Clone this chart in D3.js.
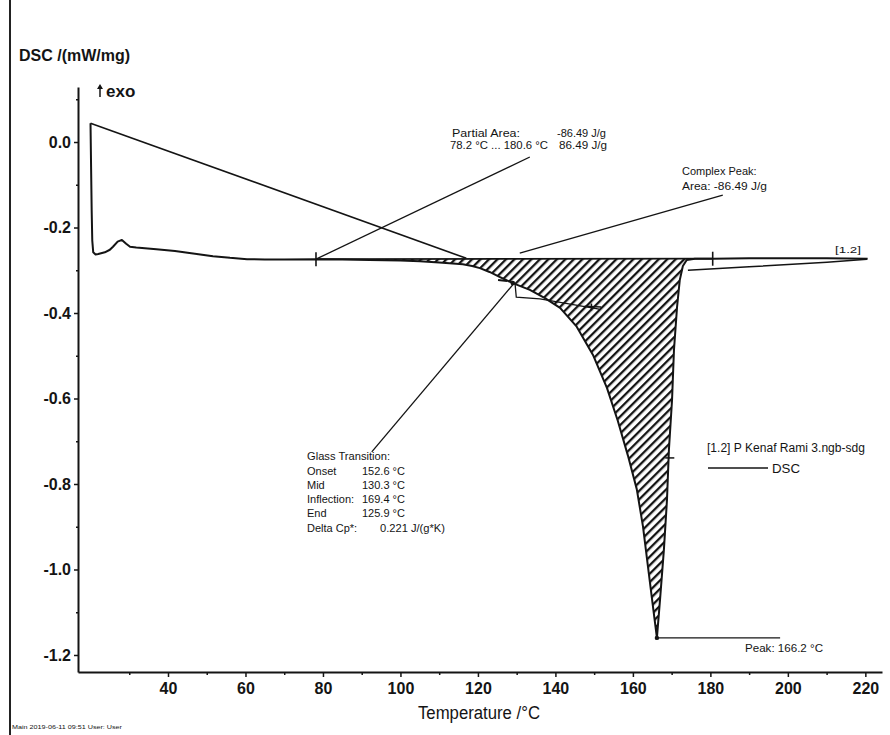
<!DOCTYPE html>
<html><head><meta charset="utf-8">
<script src="https://cdn.jsdelivr.net/npm/d3@7"></script>
<style>
body{margin:0;background:#fff}
svg{display:block}
text{font-family:"Liberation Sans",Arial,Helvetica,sans-serif;fill:#141414}
</style>
</head><body>
<svg id="chart" width="890" height="735"></svg>
<script>
// ---------- data ----------
const curveT = [20.0, 20.15, 20.3, 20.45, 20.7, 21.3, 22.0, 23.7, 25.0, 25.8, 27.0, 28.1, 29.2, 30.2, 31.8, 33.3,
  37.0, 41.8, 46.0, 51.6, 56.0, 60.4, 65.0, 70.0, 78.2, 85.0, 92.0, 100.0, 105.0, 110.0, 113.5, 116.1, 118.5,
  120.5, 123.0, 125.7, 129.0, 133.4, 137.3, 141.2, 145.5, 149.7, 153.3, 156.1, 158.7, 161.0, 162.6, 163.9,
  165.2, 166.2, 167.0, 168.0, 168.8, 169.3, 170.1, 170.6, 171.4, 172.1, 172.9, 173.9, 176.0, 180.6, 190.0,
  200.0, 210.0, 220.6];
const curveV = [0.044, -0.06, -0.16, -0.23, -0.258, -0.263, -0.262, -0.258, -0.252, -0.245, -0.233, -0.229,
  -0.238, -0.245, -0.247, -0.248, -0.251, -0.255, -0.260, -0.267, -0.271, -0.274, -0.275, -0.275, -0.274,
  -0.275, -0.276, -0.277, -0.279, -0.282, -0.284, -0.286, -0.290, -0.295, -0.304, -0.316, -0.330, -0.346,
  -0.365, -0.388, -0.432, -0.498, -0.575, -0.652, -0.733, -0.812, -0.899, -0.994, -1.088, -1.160, -1.071,
  -0.954, -0.837, -0.720, -0.604, -0.487, -0.386, -0.323, -0.290, -0.276, -0.273, -0.273, -0.272, -0.272,
  -0.272, -0.273];
// straight segment from the start of the run
const diagT = [20.0, 117.0];
const diagV = [0.044, -0.272];
// lower line right of the peak
const lowT = [174.2, 190.0, 210.1, 220.4];
const lowV = [-0.300, -0.292, -0.281, -0.274];
// partial area limits
const areaLimitsT = [78.2, 180.6];
const areaLimitsV = [-0.274, -0.273];
const peakT = 166.2, peakV = -1.160;
const inflectionT = 169.4, inflectionV = -0.739;

const xMajorTicks = [40, 60, 80, 100, 120, 140, 160, 180, 200, 220];
const xTickLabels = ["40", "60", "80", "100", "120", "140", "160", "180", "200", "220"];
const xMinorTicks = [30, 50, 70, 90, 110, 130, 150, 170, 190, 210];
const yMajorTicks = [0.0, -0.2, -0.4, -0.6, -0.8, -1.0, -1.2];
const yTickLabels = ["0.0", "-0.2", "-0.4", "-0.6", "-0.8", "-1.0", "-1.2"];
const yMinorTicks = [0.1, -0.1, -0.3, -0.5, -0.7, -0.9, -1.1];

// ---------- drawing ----------
const svg = d3.select("#chart");
svg.append("rect").attr("width", 890).attr("height", 735).attr("fill", "#fff");

const x = d3.scaleLinear().domain([16.77, 224.3]).range([78, 882]);
const y = d3.scaleLinear().domain([-1.2398, 0.1287]).range([672, 87]);
const ink = "#141414";

// page frame (left edge of scanned sheet)
svg.append("line").attr("x1", 10).attr("x2", 10).attr("y1", 0).attr("y2", 735)
  .attr("stroke", "#222").attr("stroke-width", 2);

// hatch pattern
const defs = svg.append("defs");
const pat = defs.append("pattern").attr("id", "hatch").attr("patternUnits", "userSpaceOnUse")
  .attr("width", 6).attr("height", 6).attr("patternTransform", "rotate(45)");
pat.append("line").attr("x1", 1).attr("x2", 1).attr("y1", 0).attr("y2", 6)
  .attr("stroke", ink).attr("stroke-width", 2.6);

// axes
svg.append("g").attr("transform", "translate(78,0)")
  .call(d3.axisLeft(y).tickValues(yMajorTicks).tickFormat((d, i) => yTickLabels[i])
    .tickSize(4).tickPadding(3).tickSizeOuter(0));
svg.append("g").attr("transform", "translate(78,0)")
  .call(d3.axisLeft(y).tickValues(yMinorTicks).tickFormat("").tickSize(2).tickSizeOuter(0))
  .select(".domain").remove();
svg.append("g").attr("transform", "translate(0,672)")
  .call(d3.axisBottom(x).tickValues(xMajorTicks).tickFormat((d, i) => xTickLabels[i])
    .tickSize(5).tickPadding(6).tickSizeOuter(0));
svg.append("g").attr("transform", "translate(0,672)")
  .call(d3.axisBottom(x).tickValues(xMinorTicks).tickFormat("").tickSize(3).tickSizeOuter(0))
  .select(".domain").remove();
svg.selectAll(".domain").attr("stroke", ink).attr("stroke-width", 2);
svg.selectAll(".tick line").attr("stroke", ink).attr("stroke-width", 1.5);
svg.selectAll(".tick text").attr("fill", ink).style("font-size", "16px").style("font-weight", "bold")
  .style("font-family", "'Liberation Sans',Arial,sans-serif");

// axis titles
svg.append("text").attr("x", 19).attr("y", 61).style("font-size", "16px").style("font-weight", "bold")
  .text("DSC /(mW/mg)");
svg.append("text").attr("x", 479).attr("y", 719).attr("text-anchor", "middle")
  .attr("textLength", 122).attr("lengthAdjust", "spacingAndGlyphs")
  .style("font-size", "18px").text("Temperature /°C");
// exo arrow
svg.append("line").attr("x1", 100).attr("x2", 100).attr("y1", 86).attr("y2", 97)
  .attr("stroke", ink).attr("stroke-width", 1.5);
svg.append("path").attr("d", "M97,89 L100,84 L103,89 Z").attr("fill", ink);
svg.append("text").attr("x", 106).attr("y", 97).style("font-size", "17px").style("font-weight", "bold").text("exo");

// hatched partial area between the integration baseline and the curve
const base = d3.scaleLinear().domain(areaLimitsT).range(areaLimitsV);
const areaIdx = d3.range(curveT.length).filter(i => curveT[i] >= areaLimitsT[0] && curveT[i] <= areaLimitsT[1]);
svg.append("path")
  .datum(areaIdx)
  .attr("d", d3.area().x(i => x(curveT[i])).y0(i => y(base(curveT[i]))).y1(i => y(curveV[i])))
  .attr("fill", "url(#hatch)").attr("stroke", "none");

const lineGen = d3.line().x(d => x(d[0])).y(d => y(d[1]));
// baseline of the integration
svg.append("path").datum(areaLimitsT.map((t, i) => [t, areaLimitsV[i]]))
  .attr("d", lineGen).attr("fill", "none").attr("stroke", ink).attr("stroke-width", 1.8);
// main curve
svg.append("path").datum(curveT.map((t, i) => [t, curveV[i]]))
  .attr("d", lineGen).attr("fill", "none").attr("stroke", ink).attr("stroke-width", 2)
  .attr("stroke-linejoin", "round");
// diagonal
svg.append("path").datum(diagT.map((t, i) => [t, diagV[i]]))
  .attr("d", lineGen).attr("fill", "none").attr("stroke", ink).attr("stroke-width", 1.6);
// lower right line
svg.append("path").datum(lowT.map((t, i) => [t, lowV[i]]))
  .attr("d", lineGen).attr("fill", "none").attr("stroke", ink).attr("stroke-width", 1.5);

// limit markers
areaLimitsT.forEach((t, i) => {
  svg.append("line").attr("x1", x(t)).attr("x2", x(t)).attr("y1", y(areaLimitsV[i]) - 7).attr("y2", y(areaLimitsV[i]) + 7)
    .attr("stroke", ink).attr("stroke-width", 1.6);
});
// peak marker
svg.append("circle").attr("cx", x(peakT)).attr("cy", y(peakV)).attr("r", 2.2).attr("fill", ink);
// inflection tick
svg.append("line").attr("x1", x(inflectionT) - 4).attr("x2", x(inflectionT) + 5)
  .attr("y1", y(inflectionV)).attr("y2", y(inflectionV)).attr("stroke", ink).attr("stroke-width", 1.5);

// glass transition construction marks
const thin = (pts, w) => svg.append("path").datum(pts).attr("d", lineGen)
  .attr("fill", "none").attr("stroke", ink).attr("stroke-width", w || 1.2);
thin([[125.2, -0.323], [127.5, -0.325]], 2);
svg.append("circle").attr("cx", x(129.0)).attr("cy", y(-0.330)).attr("r", 2.3).attr("fill", ink);
thin([[129.6, -0.333], [129.9, -0.363], [136.0, -0.367], [151.3, -0.391]], 1.3);
thin([[147.5, -0.384], [151.8, -0.386]], 1.5);
thin([[149.3, -0.378], [149.3, -0.394]], 1.5);

// leader lines
thin([[78.2, -0.274], [133.4, -0.035]], 1.3);
thin([[130.8, -0.260], [183.2, -0.124]], 1.3);
thin([[129.0, -0.334], [92.6, -0.725]], 1.3);
thin([[peakT, peakV], [198.0, peakV]], 1.3);

// annotation texts
function label(tx, px, py, size, len) {
  const t = svg.append("text").attr("x", px).attr("y", py).style("font-size", size + "px").text(tx);
  if (len) t.attr("textLength", len).attr("lengthAdjust", "spacingAndGlyphs");
  return t;
}
label("Partial Area:", 452, 137, 11.5, 68);
label("-86.49 J/g", 557, 137, 11.5, 49);
label("78.2 °C ... 180.6 °C", 450, 149, 11.5, 98);
label("86.49 J/g", 559, 149, 11.5, 48);
label("Complex Peak:", 682, 175, 11);
label("Area: -86.49 J/g", 682, 190, 11, 85);

label("Glass Transition:", 307, 460, 11, 83);
label("Onset", 307, 475, 11);   label("152.6 °C", 362, 475, 11);
label("Mid", 307, 489, 11);     label("130.3 °C", 362, 489, 11);
label("Inflection:", 307, 503, 11); label("169.4 °C", 362, 503, 11);
label("End", 307, 517, 11);     label("125.9 °C", 362, 517, 11);
label("Delta Cp*:", 307, 532, 11); label("0.221 J/(g*K)", 380, 532, 11, 65);

label("Peak: 166.2 °C", 745, 652, 11, 78);
label("[1.2]", 835, 253, 9, 26);

// legend
label("[1.2] P Kenaf Rami 3.ngb-sdg", 707, 452, 12, 158);
svg.append("line").attr("x1", 708).attr("x2", 768).attr("y1", 468).attr("y2", 468)
  .attr("stroke", ink).attr("stroke-width", 1.3);
label("DSC", 772, 473, 12, 28);

// footer
label("Main   2019-06-11 09:51   User: User", 12, 729, 6, 110);
</script>
</body></html>
